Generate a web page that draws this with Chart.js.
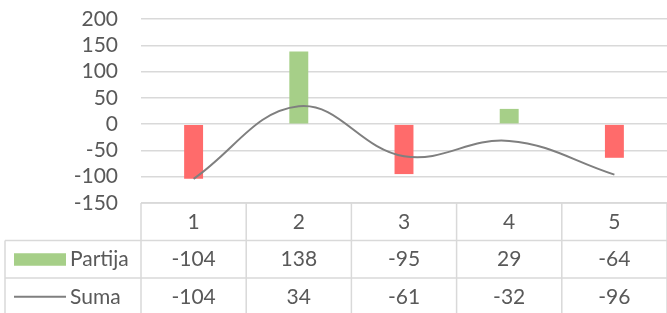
<!DOCTYPE html>
<html>
<head>
<meta charset="utf-8">
<title>Partija / Suma</title>
<script src="https://cdn.jsdelivr.net/npm/chart.js@4.4.1/dist/chart.umd.min.js"></script>
<style>
  html, body { margin: 0; padding: 0; background: #fff; }
  #wrap { width: 667px; height: 313px; position: relative; }
</style>
</head>
<body>
<div id="wrap"><canvas id="chart" width="667" height="313"></canvas></div>
<script>
// data
const categories = ['1', '2', '3', '4', '5'];
const partija = [-104, 138, -95, 29, -64];
const suma = [-104, 34, -61, -32, -96];
const seriesNames = ['Partija', 'Suma'];
const yTicks = { min: -150, max: 200, step: 50 };

// colours
const GREEN = '#a6cf88';
const RED = '#ff6b6b';
const LINE = '#7f7f7f';
const GRID = '#d9d9d9';
const TEXT = '#595959';
const FONT = 'Lato, "Open Sans", sans-serif';
const FONT_SIZE = 21;

// data table under the plot (Excel style)
const tablePlugin = {
  id: 'dataTable',
  afterDraw(chart) {
    const ctx = chart.ctx;
    const area = chart.chartArea;
    const x = chart.scales.x;
    const top = area.bottom;
    const rowH = 37.5;
    const rows = [top, top + rowH, top + rowH * 2, top + rowH * 3];
    const legendLeft = 5;
    const colW = (area.right - area.left) / categories.length;

    ctx.save();
    ctx.strokeStyle = GRID;
    ctx.lineWidth = 1.5;
    ctx.beginPath();
    // horizontal lines
    ctx.moveTo(area.left, rows[0]); ctx.lineTo(area.right, rows[0]);
    ctx.moveTo(legendLeft, rows[1]); ctx.lineTo(area.right, rows[1]);
    ctx.moveTo(legendLeft, rows[2]); ctx.lineTo(area.right, rows[2]);
    // vertical lines
    ctx.moveTo(legendLeft, rows[1]); ctx.lineTo(legendLeft, chart.height);
    for (let i = 0; i <= categories.length; i++) {
      const cx = area.left + i * colW;
      ctx.moveTo(cx, rows[0]); ctx.lineTo(cx, chart.height);
    }
    ctx.stroke();

    ctx.font = FONT_SIZE + 'px ' + FONT;
    ctx.fillStyle = TEXT;
    ctx.textAlign = 'center';
    ctx.textBaseline = 'middle';
    categories.forEach((c, i) => {
      const cx = x.getPixelForValue(i);
      ctx.fillText(c, cx, (rows[0] + rows[1]) / 2);
      ctx.fillText(String(partija[i]), cx, (rows[1] + rows[2]) / 2);
      ctx.fillText(String(suma[i]), cx, (rows[2] + rows[3]) / 2);
    });

    // legend keys
    const r1 = (rows[1] + rows[2]) / 2;
    const r2 = (rows[2] + rows[3]) / 2;
    ctx.fillStyle = GREEN;
    ctx.fillRect(14, r1 - 6, 52, 12.5);
    ctx.strokeStyle = LINE;
    ctx.lineWidth = 2;
    ctx.beginPath();
    ctx.moveTo(14, r2); ctx.lineTo(66, r2);
    ctx.stroke();
    ctx.fillStyle = TEXT;
    ctx.textAlign = 'left';
    ctx.fillText(seriesNames[0], 70, r1);
    ctx.fillText(seriesNames[1], 70, r2);
    ctx.restore();
  }
};

new Chart(document.getElementById('chart'), {
  type: 'bar',
  data: {
    labels: categories,
    datasets: [
      {
        type: 'line',
        label: seriesNames[1],
        data: suma,
        borderColor: LINE,
        borderWidth: 2,
        tension: 0.4,
        pointRadius: 0,
        fill: false,
        order: 0
      },
      {
        type: 'bar',
        label: seriesNames[0],
        data: partija,
        backgroundColor: partija.map(v => v < 0 ? RED : GREEN),
        borderWidth: 0,
        barPercentage: 0.18,
        categoryPercentage: 1,
        order: 1
      }
    ]
  },
  options: {
    responsive: false,
    animation: false,
    devicePixelRatio: 1,
    layout: { padding: { top: 19, bottom: 110, left: 0, right: 0 } },
    plugins: { legend: { display: false }, tooltip: { enabled: false } },
    scales: {
      x: { display: false, offset: true },
      y: {
        min: yTicks.min,
        max: yTicks.max,
        ticks: {
          stepSize: yTicks.step,
          autoSkip: false,
          padding: 23,
          color: TEXT,
          font: { family: FONT, size: FONT_SIZE }
        },
        grid: { color: GRID, lineWidth: 1.5, drawTicks: false },
        border: { display: false },
        afterFit(scale) {
          // fixed axis width, and no extra space for the tick padding above/below
          scale.width = 141;
          scale.paddingTop = 0;
          scale.paddingBottom = 0;
        }
      }
    }
  },
  plugins: [tablePlugin]
});
</script>
</body>
</html>
